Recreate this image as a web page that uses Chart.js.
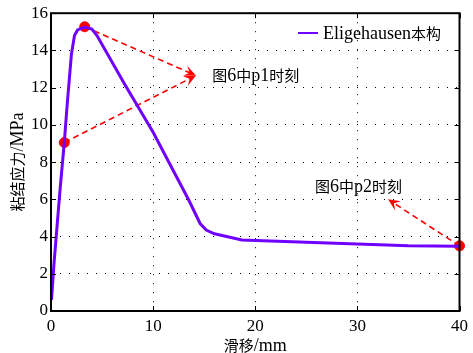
<!DOCTYPE html>
<html>
<head>
<meta charset="utf-8">
<script src="https://cdn.jsdelivr.net/npm/chart.js@4.4.0/dist/chart.umd.min.js"></script>
<style>
html, body { margin: 0; padding: 0; background: #fff; }
</style>
</head>
<body>
<canvas id="c" width="473" height="353"></canvas>
<script>
// bond-slip curve (Eligehausen model)
const slip   = [0.05, 0.3, 0.6, 0.9, 1.3, 1.6, 1.8, 2.0, 2.3, 2.6, 3.3, 4.0, 4.5, 7.2, 10.0, 13.5, 14.6, 15.2, 16.0, 18.7, 25.0, 30.0, 35.0, 40.0];
const stress = [0.6, 2.6, 4.6, 6.6, 9.05, 11.2, 12.5, 13.8, 14.8, 15.1, 15.25, 15.15, 14.8, 12.2, 9.6, 5.95, 4.7, 4.35, 4.15, 3.82, 3.7, 3.6, 3.5, 3.48];

// marked moments
const markSlip   = [1.3, 3.3, 40];
const markStress = [9.05, 15.27, 3.5];

// annotation arrows (start -> tip) and their labels
const arrowFromX = [1.3, 3.3, 40];
const arrowFromY = [9.05, 15.27, 3.5];
const arrowToX   = [14.2, 14.2, 33.0];
const arrowToY   = [12.65, 12.65, 6.0];
const noteText = ['图6中p1时刻', '图6中p2时刻'];
const noteX    = [15.8, 25.85];
const noteY    = [12.7, 6.72];

const xTicks = [0, 10, 20, 30, 40];
const yTicks = [0, 2, 4, 6, 8, 10, 12, 14, 16];
const seriesLabel = 'Eligehausen本构';
const xTitle = '滑移/mm';
const yTitle = '粘结应力/MPa';

const LINE_COLOR = '#7000ff';
const LATIN = '18px "Liberation Serif", "Times New Roman", serif';
const CJK = '15px "Noto Sans CJK SC", sans-serif';

// draw text with Latin and CJK runs in different fonts
function drawMixed(ctx, text, x, y, align) {
    const runs = text.split(/([\u2E80-\u9FFF\uFF00-\uFFEF]+)/).filter(s => s.length).map(t => {
        const cjk = /[\u2E80-\u9FFF\uFF00-\uFFEF]/.test(t);
        ctx.font = cjk ? CJK : LATIN;
        return { t, cjk, w: ctx.measureText(t).width };
    });
    const total = runs.reduce((s, r) => s + r.w, 0);
    let cx = align === 'center' ? x - total / 2 : x;
    ctx.textAlign = 'left';
    ctx.textBaseline = 'alphabetic';
    ctx.fillStyle = '#000';
    runs.forEach(r => {
        ctx.font = r.cjk ? CJK : LATIN;
        ctx.fillText(r.t, cx, y + 6);
        cx += r.w;
    });
}

function drawArrow(ctx, x1, y1, x2, y2) {
    ctx.save();
    ctx.strokeStyle = '#ff0000';
    ctx.fillStyle = '#ff0000';
    ctx.lineWidth = 1.6;
    ctx.setLineDash([6, 4]);
    const ang = Math.atan2(y2 - y1, x2 - x1);
    const ex = x2 - 5 * Math.cos(ang), ey = y2 - 5 * Math.sin(ang);
    ctx.beginPath();
    ctx.moveTo(x1, y1);
    ctx.lineTo(ex, ey);
    ctx.stroke();
    ctx.setLineDash([]);
    // swept-back head
    const L = 13, spread = 0.42;
    ctx.beginPath();
    ctx.moveTo(x2, y2);
    ctx.lineTo(x2 - L * Math.cos(ang - spread), y2 - L * Math.sin(ang - spread));
    ctx.lineTo(x2 - 7 * Math.cos(ang), y2 - 7 * Math.sin(ang));
    ctx.lineTo(x2 - L * Math.cos(ang + spread), y2 - L * Math.sin(ang + spread));
    ctx.closePath();
    ctx.fill();
    ctx.restore();
}

const decorPlugin = {
    id: 'decor',
    beforeDatasetsDraw(chart) {
        const { ctx, scales: { x, y } } = chart;
        for (let i = 0; i < arrowFromX.length; i++) {
            drawArrow(ctx,
                x.getPixelForValue(arrowFromX[i]), y.getPixelForValue(arrowFromY[i]),
                x.getPixelForValue(arrowToX[i]), y.getPixelForValue(arrowToY[i]));
        }
    },
    afterDraw(chart) {
        const { ctx, chartArea: a, scales: { x, y } } = chart;
        ctx.save();
        // inner ticks on all four sides
        ctx.strokeStyle = '#000';
        ctx.lineWidth = 1;
        ctx.beginPath();
        xTicks.forEach(v => {
            const px = Math.round(x.getPixelForValue(v)) + 0.5;
            ctx.moveTo(px, a.bottom); ctx.lineTo(px, a.bottom - 5);
            ctx.moveTo(px, a.top); ctx.lineTo(px, a.top + 5);
        });
        yTicks.forEach(v => {
            const py = Math.round(y.getPixelForValue(v)) + 0.5;
            ctx.moveTo(a.left, py); ctx.lineTo(a.left + 5, py);
            ctx.moveTo(a.right, py); ctx.lineTo(a.right - 5, py);
        });
        ctx.stroke();
        // box
        ctx.lineWidth = 2;
        ctx.strokeRect(a.left, a.top, a.right - a.left, a.bottom - a.top);

        // legend
        ctx.strokeStyle = LINE_COLOR;
        ctx.lineWidth = 2;
        ctx.beginPath();
        ctx.moveTo(298, 33); ctx.lineTo(318, 33);
        ctx.stroke();
        drawMixed(ctx, seriesLabel, 323, 33, 'left');

        // notes
        for (let i = 0; i < noteText.length; i++) {
            drawMixed(ctx, noteText[i], x.getPixelForValue(noteX[i]), y.getPixelForValue(noteY[i]), 'left');
        }

        // axis titles
        drawMixed(ctx, xTitle, (a.left + a.right) / 2, 345, 'center');
        ctx.translate(17, (a.top + a.bottom) / 2);
        ctx.rotate(-Math.PI / 2);
        drawMixed(ctx, yTitle, 0, 0, 'center');
        ctx.restore();
    }
};

const tickFont = { family: '"Liberation Serif", "Times New Roman", serif', size: 17 };

new Chart(document.getElementById('c'), {
    type: 'line',
    data: {
        datasets: [{
            label: seriesLabel,
            data: slip.map((s, i) => ({ x: s, y: stress[i] })),
            borderColor: LINE_COLOR,
            borderWidth: 3,
            pointRadius: 0,
            tension: 0,
            fill: false
        }, {
            label: 'marks',
            type: 'scatter',
            data: markSlip.map((s, i) => ({ x: s, y: markStress[i] })),
            backgroundColor: '#ff0000',
            borderColor: '#ff0000',
            pointRadius: 5,
            showLine: false,
            clip: false
        }]
    },
    options: {
        responsive: false,
        animation: false,
        layout: { padding: { top: 11, right: 11, left: 0, bottom: 0 } },
        plugins: { legend: { display: false }, tooltip: { enabled: false } },
        scales: {
            x: {
                type: 'linear',
                min: 0, max: 40,
                afterFit: s => { s.height = 42; },
                afterBuildTicks: s => { s.ticks = xTicks.map(v => ({ value: v })); },
                ticks: { color: '#000', font: tickFont, padding: 5, maxRotation: 0 },
                grid: { color: '#000', lineWidth: 1, drawTicks: false },
                border: { display: false, dash: [1, 8] }
            },
            y: {
                min: 0, max: 16,
                afterFit: s => { s.width = 51; },
                afterBuildTicks: s => { s.ticks = yTicks.map(v => ({ value: v })); },
                ticks: { color: '#000', font: tickFont, padding: 3 },
                grid: { color: '#000', lineWidth: 1, drawTicks: false },
                border: { display: false, dash: [1, 8] }
            }
        }
    },
    plugins: [decorPlugin]
});
</script>
</body>
</html>
